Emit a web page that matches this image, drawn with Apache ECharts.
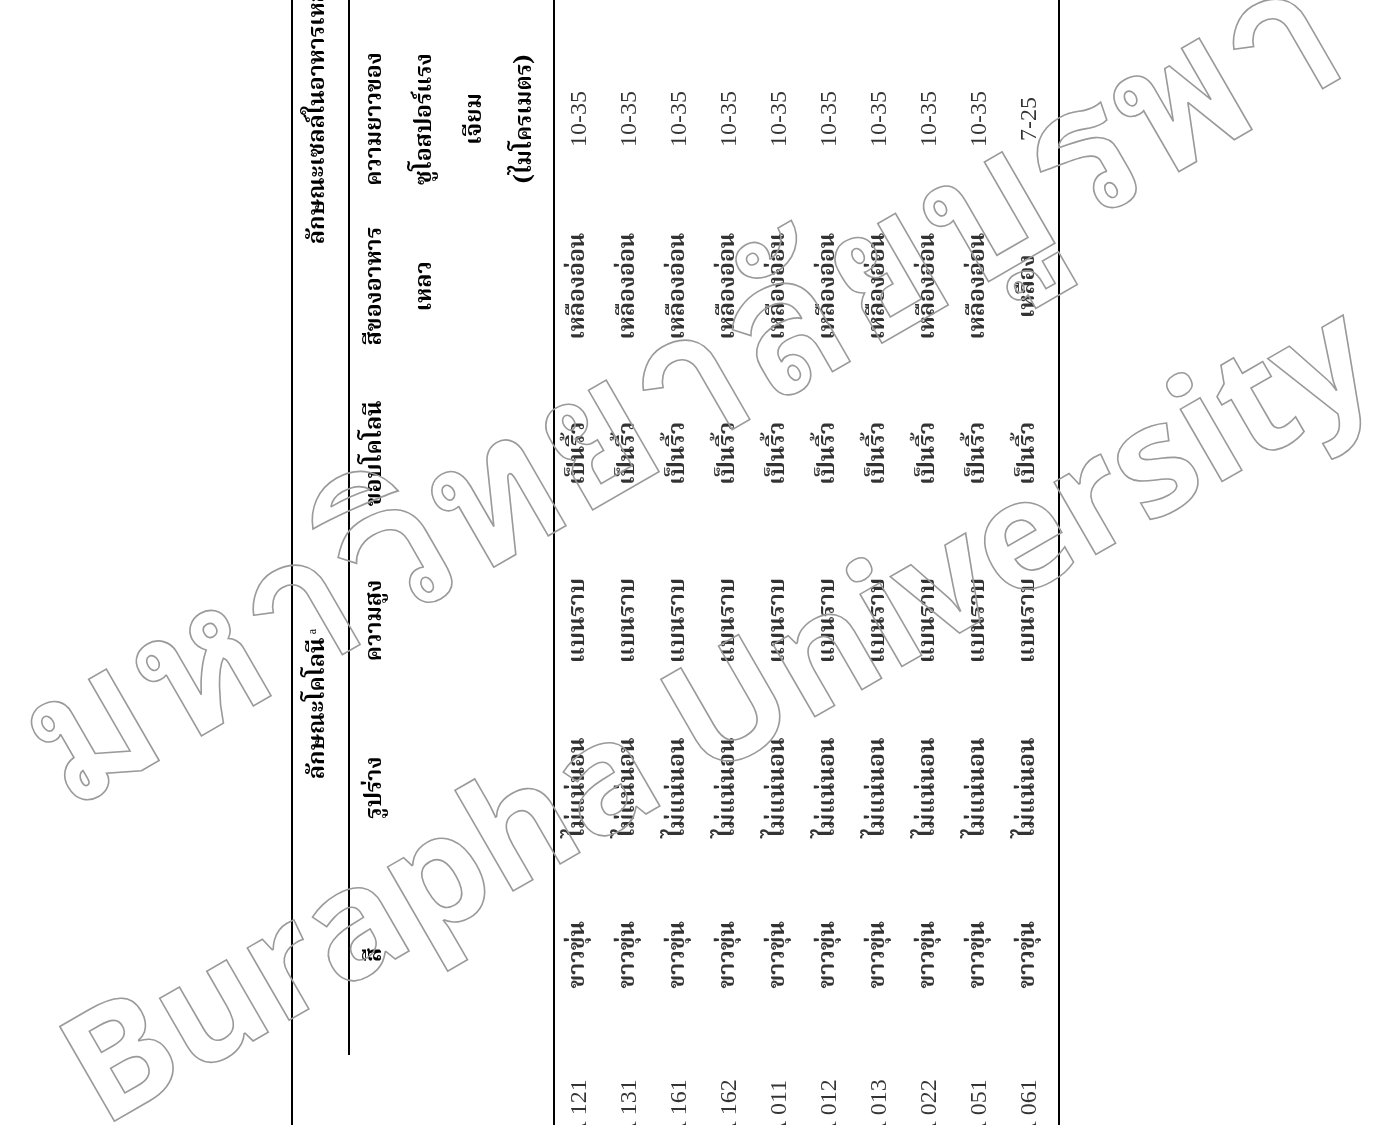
<!DOCTYPE html>
<html><head><meta charset="utf-8">
<script src="https://cdn.jsdelivr.net/npm/echarts@6/dist/echarts.min.js"></script>
<style>html,body{margin:0;padding:0;background:#fff}#c{width:1384px;height:1125px}</style>
</head><body><div id="c"></div>
<script>
const sampleIds = ['A 121','A 131','A 161','A 162','A 011','A 012','A 013','A 022','A 051','A 061'];
const colonyColor = ['ขาวขุ่น','ขาวขุ่น','ขาวขุ่น','ขาวขุ่น','ขาวขุ่น','ขาวขุ่น','ขาวขุ่น','ขาวขุ่น','ขาวขุ่น','ขาวขุ่น'];
const colonyShape = ['ไม่แน่นอน','ไม่แน่นอน','ไม่แน่นอน','ไม่แน่นอน','ไม่แน่นอน','ไม่แน่นอน','ไม่แน่นอน','ไม่แน่นอน','ไม่แน่นอน','ไม่แน่นอน'];
const colonyElevation = ['แบนราบ','แบนราบ','แบนราบ','แบนราบ','แบนราบ','แบนราบ','แบนราบ','แบนราบ','แบนราบ','แบนราบ'];
const colonyMargin = ['เป็นริ้ว','เป็นริ้ว','เป็นริ้ว','เป็นริ้ว','เป็นริ้ว','เป็นริ้ว','เป็นริ้ว','เป็นริ้ว','เป็นริ้ว','เป็นริ้ว'];
const brothColor = ['เหลืองอ่อน','เหลืองอ่อน','เหลืองอ่อน','เหลืองอ่อน','เหลืองอ่อน','เหลืองอ่อน','เหลืองอ่อน','เหลืองอ่อน','เหลืองอ่อน','เหลือง'];
const zoosporangiumLength = ['10-35','10-35','10-35','10-35','10-35','10-35','10-35','10-35','10-35','7-25'];
const columnHeaders = ['', 'สี', 'รูปร่าง', 'ความสูง', 'ขอบโคโลนี', 'สีของอาหาร\nเหลว', 'ความยาวของ\nซูโอสปอร์แรง\nเจียม\n(ไมโครเมตร)'];
const groupColony = 'ลักษณะโคโลนี';
const groupColonyNote = 'a';
const groupBroth = 'ลักษณะเซลล์ในอาหารเหลว';
const watermarkThai = 'มหาวิทยาลัยบูรพา';
const watermarkEn = 'Burapha University';

const columns = [sampleIds, colonyColor, colonyShape, colonyElevation, colonyMargin, brothColor, zoosporangiumLength];

const THAI = "'Norasi','Kinnari','Laksaman','TH Sarabun New','Noto Serif Thai','Loma','Garuda','Noto Sans Thai','Liberation Serif',serif";
const SERIF = "'Liberation Serif','DejaVu Serif',serif";

const chart = echarts.init(document.getElementById('c'), null, {renderer: 'canvas'});

const series = columns.map((arr, c) => ({
  type: 'scatter',
  symbolSize: 2,
  itemStyle: {color: 'rgba(0,0,0,0)'},
  silent: true,
  data: arr.map((_, i) => [i, c]),
  label: {
    show: true,
    position: 'inside',
    rotate: 90,
    offset: c === 0 ? [13, 0] : [0, 0],
    color: '#000',
    fontSize: (c === 0 || c === 6) ? 24 : 23,
    fontWeight: (c === 0 || c === 6) ? 'normal' : 'bold',
    fontFamily: (c === 0 || c === 6) ? SERIF : THAI,
    formatter: p => arr[p.dataIndex]
  }
}));

chart.setOption({
  backgroundColor: '#fff',
  animation: false,
  grid: {left: 555, right: 329, top: 119, bottom: -2},
  xAxis: {
    type: 'category', data: sampleIds, boundaryGap: true,
    axisLine: {show: false}, axisTick: {show: false}, axisLabel: {show: false}, splitLine: {show: false}
  },
  yAxis: {
    type: 'category', data: columnHeaders, boundaryGap: false,
    axisLine: {show: false}, axisTick: {show: false}, splitLine: {show: false},
    axisLabel: {
      interval: 0, rotate: 90, margin: 203, verticalAlign: 'top', align: 'center',
      lineHeight: 50, fontSize: 23, fontWeight: 'bold', fontFamily: THAI, color: '#000'
    }
  },
  series: series
});

// table rules, group headers and the watermark
const px = (row, col) => chart.convertToPixel({gridIndex: 0}, [row, col]);
const yMidColony = (px(0, 1)[1] + px(0, 4)[1]) / 2;
const yBrothStart = px(0, 5)[1] - 42;
const H = 1125;
const line = (x, y1, y2, w) => ({type: 'line', silent: true, shape: {x1: x, y1: y1, x2: x, y2: y2}, style: {stroke: '#000', lineWidth: w}});

chart.setOption({
  graphic: [
    line(292, 0, H, 2),
    line(349, 0, 1055, 2),
    line(554, 0, H, 2),
    line(1059, 0, H, 2),
    {
      type: 'text', silent: true, x: 320, y: yMidColony, rotation: Math.PI / 2,
      style: {
        text: '{t|' + groupColony + '} {s|' + groupColonyNote + '}',
        align: 'center', verticalAlign: 'middle',
        rich: {t: {fontSize: 23, fontWeight: 'bold', fontFamily: THAI, fill: '#000'}, s: {fontSize: 12, fontFamily: SERIF, fill: '#000', verticalAlign: 'top', padding: [0, 0, 14, 0]}}
      }
    },
    {
      type: 'text', silent: true, x: 320, y: yBrothStart, rotation: Math.PI / 2,
      style: {text: groupBroth, align: 'left', verticalAlign: 'middle', fontSize: 23, fontWeight: 'bold', fontFamily: THAI, fill: '#000'}
    },
    {
      type: 'text', silent: true, z: 100, x: 690, y: 405, rotation: Math.PI / 6,
      style: {text: watermarkThai, align: 'center', verticalAlign: 'middle', fontSize: 190, fontWeight: 'bold',
        fontFamily: "'Loma','Garuda','Noto Sans Thai',sans-serif", fill: 'rgba(0,0,0,0)', stroke: '#9a9a9a', lineWidth: 1.6}
    },
    {
      type: 'text', silent: true, z: 100, x: 722, y: 720, rotation: Math.PI / 6,
      style: {text: watermarkEn, align: 'center', verticalAlign: 'middle', fontSize: 153, fontWeight: 'bold',
        fontFamily: "'Open Sans','Lato',sans-serif", fill: 'rgba(0,0,0,0)', stroke: '#9a9a9a', lineWidth: 1.6}
    }
  ]
});
</script></body></html>
